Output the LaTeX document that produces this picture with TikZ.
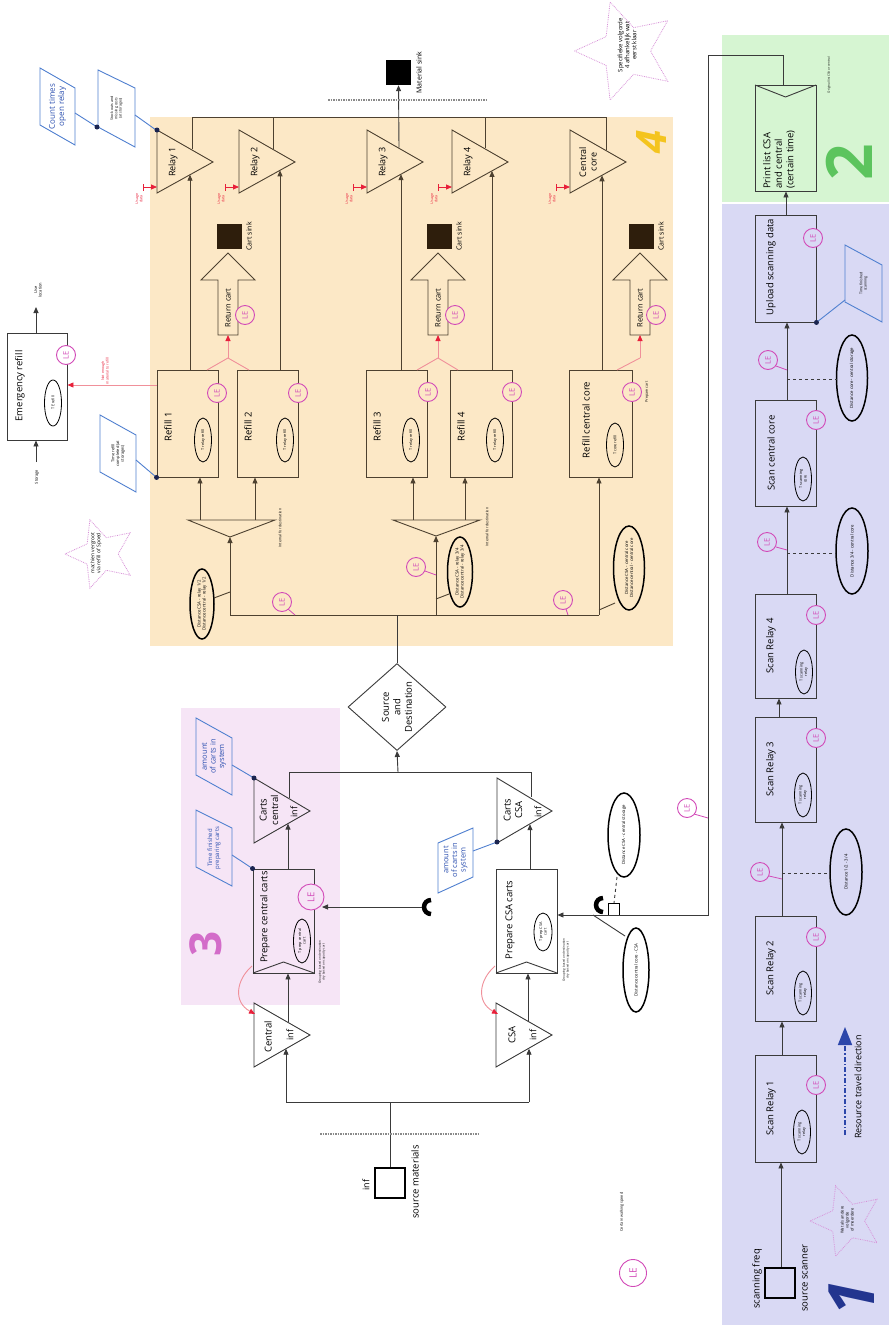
\documentclass[tikz,border=0pt]{standalone}
\usepackage{fontspec}
\setmainfont{Open Sans}
\usetikzlibrary{shapes.geometric,arrows.meta,fit}
\definecolor{bgfour}{HTML}{FCE8C6}
\definecolor{bgtwo}{HTML}{D6F5D2}
\definecolor{bgone}{HTML}{D9D9F4}
\definecolor{bgthree}{HTML}{F6E5F6}
\definecolor{lnbrown}{HTML}{4D4130}
\definecolor{lngray}{HTML}{3A3A3A}
\definecolor{lemag}{HTML}{D24AB8}
\definecolor{noteblue}{HTML}{5080D0}
\definecolor{notetext}{HTML}{2C50B0}
\definecolor{redline}{HTML}{E8203A}
\definecolor{pinkred}{HTML}{F0909A}
\definecolor{starpink}{HTML}{D890D8}
\definecolor{sinkbrown}{HTML}{2E1E0C}
\definecolor{numgold}{HTML}{F4C41E}
\definecolor{numgreen}{HTML}{5CC45E}
\definecolor{numpink}{HTML}{D36CC9}
\definecolor{numblue}{HTML}{23358F}
\definecolor{travel}{HTML}{2C46AA}
\definecolor{dotnavy}{HTML}{1B2550}
\definecolor{dashgray}{HTML}{8A8A8A}

\newcommand\fitbox[6]{\node[#6, fit={(#2,#3)(#4,#5)}] (#1) {};}
\newcommand\lecirc[3]{\node[le, fill=#3] (#1) at (#2) {LE};}
\newcommand\distell[6]{\draw[#6] (#2) ellipse [x radius=#3, y radius=#4];\node[distt] (#1) at (#2) {#5};}
\newcommand\smallell[5]{\draw[thinell] (#2) ellipse [x radius=#3, y radius=#4];\node[ellt] (#1) at (#2) {#5};}
\newcommand\relaytri[4]{\draw[fb] (#2,130) -- (#2+56,162) -- (#2,193) -- cycle;\node[lbl, font=\fontsize{9}{10.5}\selectfont] (#1) at (#2+#4,162) {#3};}
\newcommand\usagedata[2]{\draw[draw=redline, line width=0.8pt, {Bar[width=7pt]}-{Triangle[length=6pt,width=5pt]}] (#2-14,187) -- (#2,187);\node[tny, text=redline] (#1) at (#2-18,199) {Usage\\data};}
\newcommand\retcart[2]{%
  \draw[fb] (#2-10,335) -- (#2-10,280) -- (#2-27,280) -- (#2,253) -- (#2+27,280) -- (#2+10,280) -- (#2+10,335) -- cycle;
  \node[rotate=90, inner sep=0pt, font=\fontsize{7.5}{8}\selectfont] (#1) at (#2,308) {Return cart};
  \coordinate (#1b) at (#2,335);
  \coordinate (#1f) at (#2,358);
  \node[fill=sinkbrown, minimum size=25pt, inner sep=0pt] (#1s) at (#2+1.5,236.5) {};
  \node[rotate=90, inner sep=0pt, font=\fontsize{7}{8}\selectfont] (#1sl) at (#2+21,236.5) {Cart sink};}

\begin{document}
\begin{tikzpicture}[x=1pt,y=-1pt,
  lbl/.style={rotate=90, inner sep=0pt, font=\fontsize{9.5}{11.5}\selectfont, align=center},
  sml/.style={rotate=90, inner sep=0pt, font=\fontsize{5.5}{6.5}\selectfont, align=center},
  tny/.style={rotate=90, inner sep=0pt, font=\fontsize{3.6}{4.3}\selectfont, align=center},
  ellt/.style={rotate=90, inner sep=0pt, font=\fontsize{3.8}{4.4}\selectfont, align=center},
  distt/.style={rotate=90, inner sep=0pt, font=\fontsize{4.3}{5.2}\selectfont, align=center},
  boxb/.style={draw=lnbrown, line width=0.9pt, inner sep=0pt},
  boxg/.style={draw=lngray, line width=0.9pt, inner sep=0pt},
  srcsq/.style={draw=black, line width=2.8pt, inner sep=0pt},
  fb/.style={draw=lnbrown, line width=0.9pt},
  fg/.style={draw=lngray, line width=0.9pt},
  arr/.style={-{Triangle[length=6pt,width=5pt]}},
  rarr/.style={draw=pinkred, line width=0.9pt, -{Triangle[length=6pt,width=5pt,color=redline]}},
  rline/.style={draw=pinkred, line width=0.9pt},
  note/.style={draw=noteblue, line width=0.9pt},
  notet/.style={rotate=90, inner sep=0pt, text=notetext, align=center, font=\fontsize{7.5}{8.6}\selectfont},
  le/.style={circle, draw=lemag, line width=0.9pt, inner sep=0pt, minimum size=19pt, text=lemag, rotate=90, font=\fontsize{7.5}{8}\selectfont},
  lel/.style={draw=lemag, line width=0.8pt},
  thinell/.style={draw=black, line width=0.8pt},
  thickell/.style={draw=black, line width=1.5pt},
  starn/.style={star, star points=5, star point ratio=2.1, draw=starpink, densely dotted, line width=0.8pt, shape border rotate=90, inner sep=0pt},
  sdash/.style={draw=dashgray, line width=1.3pt, dash pattern=on 1.5pt off 1pt},
  bignum/.style={rotate=90, inner sep=0pt}
]
\useasboundingbox (0,0) rectangle (889,1325);
% ---------------- backgrounds ----------------
\fill[white] (0,0) rectangle (889,1325);
\fill[bgfour] (150,117) rectangle (673,646);
\fill[bgtwo] (722,35) rectangle (889,202);
\fill[bgone] (722,204) rectangle (889,1325);
\fill[bgthree] (181,708) rectangle (340,1005);

% big numbers
\node[bignum, text=numgold, font=\fontsize{42}{42}\selectfont\bfseries\itshape] (n4) at (652,142) {4};
\node[bignum, text=numpink, font=\fontsize{44}{44}\selectfont\bfseries] (n3) at (206,944) {3};
\node[bignum, text=numgreen, font=\fontsize{64}{64}\selectfont\bfseries] (n2) at (849,162) {2};
\node[bignum, text=numblue, font=\fontsize{64}{64}\selectfont\bfseries\itshape] (n1) at (852,1298) {1};

% ================= region 4 =================
\relaytri{r1}{157}{Relay 1}{16}
\relaytri{r2}{239}{Relay 2}{16}
\relaytri{r3}{367}{Relay 3}{16}
\relaytri{r4}{452}{Relay 4}{16}
\relaytri{rc}{570}{Central\\core}{18}
\usagedata{u1}{157}
\usagedata{u2}{239}
\usagedata{u3}{367}
\usagedata{u4}{452}
\usagedata{uc}{570}

\coordinate (r1o) at (192,149.4); \coordinate (r2o) at (273,148.8);
\coordinate (r3o) at (399,147.7); \coordinate (r4o) at (485,148.3);
\coordinate (rco) at (606,149.9);
\coordinate (r1i) at (190,174.7); \coordinate (r2i) at (280,170.3);
\coordinate (r3i) at (401,174.2); \coordinate (r4i) at (492,170.9);
\coordinate (rci) at (602,175.3);
\coordinate (topl) at (192,117); \coordinate (topr) at (606,117);
\coordinate (top2) at (273,117); \coordinate (top4) at (485,117);
\draw[fb] (r1o) -- (topl) -- (topr) -- (rco);
\draw[fb] (r2o) -- (top2);
\draw[fb] (r4o) -- (top4);
\node[fill=black, minimum size=25pt, inner sep=0pt] (msink) at (398.5,72.5) {};
\node[rotate=90, inner sep=0pt, font=\fontsize{7}{8}\selectfont] (msinkl) at (419,72.5) {Material sink};
\draw[fg, arr] (r3o) -- (msink.south);
\draw[sdash] (328,100) -- (487,100);

% refill boxes
\fitbox{rf1}{157}{370}{218}{477}{boxb}
\fitbox{rf2}{237}{370}{298}{477}{boxb}
\fitbox{rf3}{366}{370}{427}{477}{boxb}
\fitbox{rf4}{450}{370}{512}{477}{boxb}
\fitbox{rfc}{569}{370}{632}{477}{boxb}
\node[lbl] (rf1t) at (168,427) {Refill 1};
\node[lbl] (rf2t) at (248,427) {Refill 2};
\node[lbl] (rf3t) at (377,427) {Refill 3};
\node[lbl] (rf4t) at (461,427) {Refill 4};
\node[lbl] (rfct) at (586,420) {Refill central core};
\smallell{e1}{203,440}{8.5pt}{22pt}{T relay refill}
\smallell{e2}{285,440}{8.5pt}{22pt}{T relay refill}
\smallell{e3}{411,440}{8.5pt}{22pt}{T relay refill}
\smallell{e4}{495,440}{8.5pt}{22pt}{T relay refill}
\smallell{ec}{615,445}{8.5pt}{22pt}{T core refill}
\node[tny] (prepc) at (647,392) {Prepare cart};

% relay inputs
\draw[fb, arr] (190,0 |- rf1.north) -- (r1i);
\draw[fb, arr] (280,0 |- rf2.north) -- (r2i);
\draw[fb, arr] (401,0 |- rf3.north) -- (r3i);
\draw[fb, arr] (492,0 |- rf4.north) -- (r4i);
\draw[fb, arr] (602,0 |- rfc.north) -- (rci);

% return carts
\retcart{rc1}{228}
\retcart{rc2}{438}
\retcart{rc3}{640}
\draw[rline] (207,370) -- (rc1f) -- (249,370);
\draw[rarr] (rc1f) -- (rc1b);
\draw[rline] (417,370) -- (rc2f) -- (458,370);
\draw[rarr] (rc2f) -- (rc2b);
\draw[rline] (617,370) -- (rc3f);
\draw[rarr] (rc3f) -- (rc3b);

% splitters
\draw[fb] (188,520) -- (275,520) -- (230,537) -- cycle;
\draw[fb] (393,520) -- (480,520) -- (436,536) -- cycle;
\coordinate (sp1) at (230,537); \coordinate (sp2) at (436,536);
\draw[fb, arr] (200,520) -- (200,0 |- rf1.south);
\draw[fb, arr] (255,520) -- (255,0 |- rf2.south);
\draw[fb, arr] (413,520) -- (413,0 |- rf3.south);
\draw[fb, arr] (465,520) -- (465,0 |- rf4.south);
\node[tny] (int1) at (280,528) {Internal for destination};
\node[tny] (int2) at (487,527) {Internal for destination};
\coordinate (h1) at (230,615); \coordinate (h2) at (436,615); \coordinate (h3) at (599,615);
\coordinate (h0) at (397,615);
\draw[fb] (h1) -- (h3);
\draw[fb, arr] (h1) -- (sp1);
\draw[fb, arr] (h2) -- (sp2);
\draw[fb, arr] (h3) -- (599,0 |- rfc.south);

% distance ellipses region 4
\distell{d12}{202,604}{12pt}{35pt}{Distance CSA - relay 1/2\\Distance central - relay 1/2}{thickell}
\distell{d34}{460,572}{12.5pt}{35pt}{Distance CSA - relay 3/4\\Distance central - relay 3/4}{thickell}
\distell{dcc}{629,568}{15.5pt}{42pt}{Distance CSA - central core\\Distance central - central core}{thickell}
\draw[fb] (214,598) -- (230,592);
\draw[fb] (449,594) -- (436,599);
\draw[fb] (615,603) -- (599,610);

% LE circles region 4
\lecirc{le1}{217,393}{bgfour}
\lecirc{le2}{298,393}{bgfour}
\lecirc{le3}{428,392}{bgfour}
\lecirc{le4}{512,392}{bgfour}
\lecirc{le5}{632,392}{bgfour}
\lecirc{le6}{245,315}{bgfour}
\lecirc{le7}{455,315}{bgfour}
\lecirc{le8}{656,315}{bgfour}
\draw[lel] (288,609) -- (295,615);
\draw[lel] (425,571) -- (436,575);
\draw[lel] (566,609) -- (568,615);
\lecirc{le9}{282,602}{bgfour}
\lecirc{le10}{416,567}{bgfour}
\lecirc{le11}{563,600}{bgfour}

% emergency refill
\fitbox{em}{7}{333}{67}{440}{boxg}
\node[lbl] (emt) at (20,386) {Emergency refill};
\smallell{ee}{53,403}{8.5pt}{23pt}{T E refill}
\lecirc{le12}{66,355}{white}
\coordinate (stor) at (36,462); \coordinate (usel) at (36,307);
\draw[fg, arr] (stor) -- (36,0 |- em.south);
\draw[fg, arr] (36,0 |- em.north) -- (usel);
\node[tny, font=\fontsize{4}{4.6}\selectfont] (storl) at (37,477) {Storage};
\node[tny, font=\fontsize{4}{4.6}\selectfont] (usell) at (38,290) {Use\\location};
\draw[rarr] (rf1.west |- 0,385) -- (em.east |- 0,385);
\node[tny, text=redline] (nem) at (105,371) {Not enough\\material to refill};

% blue notes region 4
\draw[note] (40,68) -- (75,88) -- (75,145) -- (40,125) -- cycle;
\node[notet, font=\fontsize{8}{9.3}\selectfont] (ct) at (57.5,106.5) {Count times\\open relay};
\draw[note] (98,70) -- (135,88) -- (135,147) -- (98,127) -- cycle;
\node[tny] (so) at (116.5,108.5) {Stock outs and\\missing costs\\(at storages)};
\draw[note] (75,113) -- (97,127);
\draw[note] (135,115) -- (156,130);
\fill[dotnavy] (97,127) circle[radius=2.5pt];
\fill[dotnavy] (157,130) circle[radius=2.5pt];
\draw[note] (100,415) -- (136,435) -- (136,492) -- (100,472) -- cycle;
\node[tny, font=\fontsize{4}{4.8}\selectfont] (trc) at (118,453.5) {Time refill\\completed (at\\storages)};
\draw[note] (136,460) -- (rf1.south west);
\fill[dotnavy] (rf1.south west) circle[radius=2.5pt];

% stars
\node[starn, minimum size=72pt] (st1) at (101,554) {};
\node[tny, font=\fontsize{5}{6}\selectfont] (st1t) at (96,553) {machien vergroot\\via refill of Spoed};
\node[starn, minimum size=103pt] (st2) at (626,51) {};
\node[tny, font=\fontsize{6}{7}\selectfont] (st2t) at (627,45) {Specifieke volgorde\\4 afhankelijk wat\\eerst klaar};
\node[starn, minimum size=74pt] (st3) at (847,1221) {};
\node[tny, font=\fontsize{4}{5}\selectfont] (st3t) at (847,1220) {Wat als andere\\volgorde\\of meerdere};

% ================= source / destination =================
\node[draw=lngray, line width=0.9pt, diamond, minimum width=98pt, minimum height=87pt, inner sep=0pt] (sd) at (397,707) {};
\node[lbl] (sdt) at (397,707) {Source\\and\\Destination};
\draw[fg] (h0) -- (sd.north);

% ================= region 3 =================
\fitbox{pcc}{253}{869}{314}{973}{boxg}
\draw[fg] (253,973) -- (283.5,962) -- (314,973);
\node[lbl] (pcct) at (265,917) {Prepare central carts};
\smallell{epc}{302,941}{8.5pt}{22pt}{T prep central\\cart}
\node[tny, font=\fontsize{3}{3.6}\selectfont] (grp1) at (322,962) {Grouping based on destination\\dry based on capacity cart};
\node[le, minimum size=26pt, fill=bgthree, font=\fontsize{9.5}{10}\selectfont] (lebig) at (311,897) {LE};

\fitbox{pcsa}{496}{869}{557}{973}{boxg}
\draw[fg] (496,973) -- (526.5,962) -- (557,973);
\node[lbl] (pcsat) at (510,920) {Prepare CSA carts};
\smallell{epa}{543,932}{9pt}{19pt}{T prep CSA\\cart}
\node[tny, font=\fontsize{3}{3.6}\selectfont] (grp2) at (566,960) {Grouping based on destination\\dry based on capacity cart};

% carts triangles
\draw[fg] (254,778) -- (310,811) -- (254,843) -- cycle;
\node[lbl] (ctc) at (269,810) {Carts\\central};
\node[lbl, font=\fontsize{9}{10}\selectfont] (ctci) at (294,812) {inf};
\draw[fg] (497,778) -- (552,811) -- (497,843) -- cycle;
\node[lbl] (ctsa) at (513,810) {Carts\\CSA};
\node[lbl, font=\fontsize{9}{10}\selectfont] (ctsai) at (538,812) {inf};
\coordinate (ctcin) at (288,823.6); \coordinate (ctcout) at (289,798);
\coordinate (ctsin) at (530,824.2); \coordinate (ctsout) at (531,797.4);
\draw[fg, arr] (288,0 |- pcc.north) -- (ctcin);
\draw[fg, arr] (530,0 |- pcsa.north) -- (ctsin);
\draw[fg] (ctcout) -- (289,772) -- (531,772) -- (ctsout);
\draw[fg, arr] (398,772) -- (sd.south);

% notes region 3
\draw[note] (196,718) -- (232,738) -- (232,795) -- (196,775) -- cycle;
\node[notet] (am1) at (214,756.5) {amount\\of carts in\\system};
\draw[note] (232,765) -- (254,778);
\fill[dotnavy] (254,778) circle[radius=2.5pt];
\draw[note] (196,810) -- (232,828) -- (232,886) -- (196,867) -- cycle;
\node[notet, font=\fontsize{6}{7}\selectfont] (tfp) at (214,848) {Time finished\\preparing carts};
\draw[note] (232,855) -- (pcc.north west);
\fill[dotnavy] (pcc.north west) circle[radius=2.5pt];
\draw[note] (438,843) -- (473,828) -- (473,877) -- (438,893) -- cycle;
\node[notet] (am2) at (455.5,860) {amount\\of carts in\\system};
\draw[note] (473,851) -- (497,842);
\fill[dotnavy] (497,842) circle[radius=2.5pt];

% source triangles
\draw[fg] (254,1003) -- (310,1035) -- (254,1067) -- cycle;
\node[lbl] (cen) at (268,1037) {Central};
\node[lbl, font=\fontsize{9}{10}\selectfont] (ceni) at (290,1035) {inf};
\draw[fg] (496,1003) -- (552,1035) -- (496,1067) -- cycle;
\node[lbl] (csa) at (512,1035) {CSA};
\node[lbl, font=\fontsize{9}{10}\selectfont] (csai) at (533,1035) {inf};
\coordinate (cenin) at (286,1048.7); \coordinate (cenout) at (288,1022.4);
\coordinate (csain) at (529,1048.7); \coordinate (csaout) at (528,1022.4);
\coordinate (b1) at (286,1102); \coordinate (b2) at (529,1102); \coordinate (b0) at (390,1102);
\draw[fg] (b1) -- (b2);
\draw[fg, arr] (b1) -- (cenin);
\draw[fg, arr] (b2) -- (csain);
\draw[fg, arr] (cenout) -- (288,0 |- pcc.south);
\draw[fg, arr] (csaout) -- (528,0 |- pcsa.south);
\draw[rarr] (252,966) .. controls (236,980) and (233,1002) .. (255,1014);
\draw[rarr] (495,966) .. controls (479,980) and (476,1002) .. (498,1014);

% source materials
\fitbox{srcm}{375}{1168}{405}{1198}{srcsq}
\draw[fg] (b0) -- (390,0 |- srcm.north);
\draw[sdash] (320,1134) -- (478,1134);
\node[lbl, font=\fontsize{9}{10}\selectfont] (srcinf) at (366,1185) {inf};
\node[lbl] (srcl) at (415,1182) {source materials};

% connectors into preparation
\coordinate (cn1) at (428,907);
\draw[line width=4.5pt] (431,900) arc[start angle=90, end angle=270, radius=7pt];
\coordinate (lebigin) at (322,907);
\draw[fg, arr] (422,907) -- (lebigin);
\coordinate (cn2) at (600,905);
\draw[line width=4.5pt] (603,898) arc[start angle=90, end angle=270, radius=7pt];
\draw[draw=black, line width=0.8pt] (608,903) rectangle (619,915);
\distell{dcsa}{624,835}{16pt}{42pt}{Distance CSA - central storage}{thickell}
\distell{dccs}{636,970}{13pt}{42pt}{Distance central core - CSA}{thickell}
\draw[fg, dashed] (617,877) -- (614,903);
\draw[fg] (593,915) -- (625,936);
\draw[lel] (694,814) -- (708,818);
\lecirc{le13}{687,808}{white}

% legend
\node[le, minimum size=27pt, fill=white, font=\fontsize{10}{11}\selectfont] (leleg) at (633,1273) {LE};
\node[tny, font=\fontsize{3.8}{4.4}\selectfont] (legt) at (622,1212) {Certain walking speed};

% ================= region 2 / 1 =================
\fitbox{pl}{755}{85}{816}{191}{boxg}
\draw[fg] (755,85) -- (785.5,97) -- (816,85);
\node[lbl, anchor=west, align=left] (plt) at (779,189) {Print list CSA\\and central\\(certain time)};
\node[tny, font=\fontsize{3}{3.6}\selectfont] (orig) at (829,75) {Original list CSA or central};
\coordinate (lk1) at (783,55); \coordinate (lk2) at (708,55); \coordinate (lk3) at (708,915);
\draw[fg, arr] (783,0 |- pl.north) -- (lk1) -- (lk2) -- (lk3) -- (pcsa.east |- 0,915);

\fitbox{up}{755}{215}{816}{322}{boxg}
\node[lbl] (upt) at (771,267) {Upload scanning data};
\draw[note] (845,245) -- (882,265) -- (882,322) -- (845,302) -- cycle;
\node[tny] (tfs) at (863.5,283.5) {Time finished\\scanning};
\draw[note] (up.south east) -- (845,300);
\fill[dotnavy] (up.south east) circle[radius=2.5pt];

\fitbox{scc}{755}{400}{816}{506}{boxg}
\node[lbl] (scct) at (771,453) {Scan central core};
\smallell{esc}{803,479}{8.5pt}{22pt}{T scanning\\core}
\fitbox{sr4}{755}{594}{816}{698}{boxg}
\node[lbl] (sr4t) at (771,646) {Scan Relay 4};
\smallell{es4}{804,672}{8.5pt}{22pt}{T scanning\\relay}
\fitbox{sr3}{755}{717}{816}{822}{boxg}
\node[lbl] (sr3t) at (771,769) {Scan Relay 3};
\smallell{es3}{803,795}{8.5pt}{22pt}{T scanning\\relay}
\fitbox{sr2}{755}{916}{816}{1021}{boxg}
\node[lbl] (sr2t) at (771,968) {Scan Relay 2};
\smallell{es2}{803,993}{8.5pt}{22pt}{T scanning\\relay}
\fitbox{sr1}{755}{1055}{816}{1162}{boxg}
\node[lbl] (sr1t) at (771,1108) {Scan Relay 1};
\smallell{es1}{802,1132}{8.5pt}{22pt}{T scanning\\relay}
\fitbox{ssc}{765}{1268}{795}{1298}{srcsq}
\node[lbl] (sscf) at (757,1279) {scanning freq};
\node[lbl] (sscs) at (805,1278) {source scanner};

\draw[fg, arr] (786,0 |- up.north) -- (786,0 |- pl.south);
\draw[fg, arr] (787,0 |- scc.north) -- (787,0 |- up.south);
\draw[fg, arr] (787,0 |- sr4.north) -- (787,0 |- scc.south);
\draw[fg, arr] (779,0 |- sr3.north) -- (779,0 |- sr4.south);
\draw[fg, arr] (782,0 |- sr2.north) -- (782,0 |- sr3.south);
\draw[fg, arr] (782,0 |- sr1.north) -- (782,0 |- sr2.south);
\draw[fg, arr] (781,0 |- ssc.north) -- (781,0 |- sr1.south);

\distell{dcs}{852,378}{15.5pt}{43pt}{Distance core - central storage}{thickell}
\distell{d3c}{852,551}{16pt}{43pt}{Distance 3/4 - central core}{thickell}
\distell{d1234}{846,872}{16pt}{43pt}{Distance 1/2 - 3/4}{thickell}
\draw[fg, dashed] (787,379) -- (836.5,379);
\draw[fg, dashed] (787,553) -- (836,553);
\draw[fg, dashed] (782,873) -- (830,873);
\draw[lel] (776,366) -- (787,370);
\draw[lel] (776,547) -- (787,550);
\draw[lel] (769,876) -- (782,879);
\lecirc{le14}{768,360}{bgone}
\lecirc{le15}{767,542}{bgone}
\lecirc{le16}{760,872}{bgone}
\lecirc{le17}{813,238}{bgone}
\lecirc{le18}{816,420}{bgone}
\lecirc{le19}{816,615}{bgone}
\lecirc{le20}{816,738}{bgone}
\lecirc{le21}{816,937}{bgone}
\lecirc{le22}{816,1085}{bgone}

% resource travel direction
\coordinate (tr0) at (845,1135); \coordinate (tr1) at (845,1027);
\draw[draw=travel, line width=1.6pt, dash pattern=on 5pt off 2pt on 1.5pt off 2pt, -{Triangle[length=18pt,width=14pt]}] (tr0) -- (tr1);
\node[lbl, font=\fontsize{9}{10}\selectfont] (trl) at (858,1087) {Resource travel direction};
\end{tikzpicture}
\end{document}
